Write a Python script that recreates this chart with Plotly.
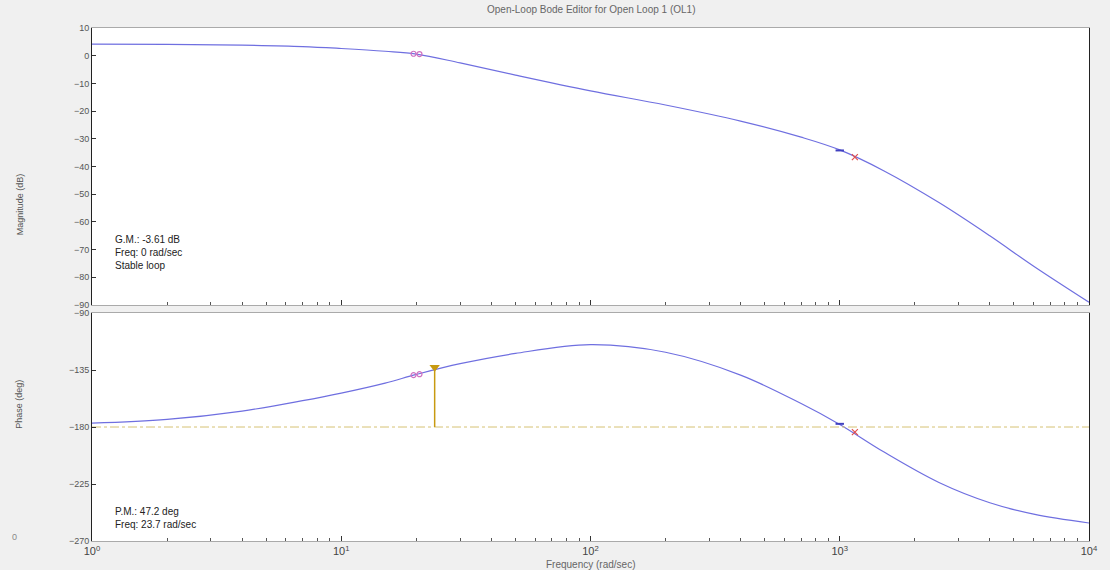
import plotly.graph_objects as go

# ---- data ----
freq = [1, 2, 4, 7, 10, 15, 20, 30, 50, 100, 200, 400, 700, 1000, 1500, 2500, 4000, 6000, 10000]
mag_db = [4.2, 4.1, 3.8, 3.3, 2.6, 1.6, 0.6, -2.6, -7.0, -12.7, -17.8, -23.6, -29.4, -34.0, -41.5, -53.0, -65.0, -76.0, -89.0]
phase_deg = [-177, -174, -167.4, -159.2, -153.2, -145.3, -138.5, -130, -121.9, -115, -121, -139, -161.5, -178, -199.6, -223.8, -239.8, -248.8, -255.8]

comp_freq = [19.5, 20.6]          # pink compensator markers
comp_mag = [0.7, 0.6]
comp_phase = [-139, -138.3]
cl_blue_freq = [1000]
cl_blue_mag = [-34.2]
cl_blue_phase = [-177.5]
cl_red_freq = [1150]
cl_red_mag = [-36.6]
cl_red_phase = [-184]

pm_freq = 23.7
pm_phase = -132.8
crit_phase = -180

mag_ticks = [10, 0, -10, -20, -30, -40, -50, -60, -70, -80, -90]
phase_ticks = [-90, -135, -180, -225, -270]
x_tickvals = [1, 10, 100, 1000, 10000]
x_ticktext = ["10<sup>0</sup>", "10<sup>1</sup>", "10<sup>2</sup>", "10<sup>3</sup>", "10<sup>4</sup>"]

title_text = "Open-Loop Bode Editor for Open Loop 1 (OL1)"
gm_text = "G.M.: -3.61 dB<br>Freq: 0 rad/sec<br>Stable loop"
pm_text = "P.M.: 47.2 deg<br>Freq: 23.7 rad/sec"

line_col = "#6f6fe0"
font = dict(family="Liberation Sans, Arial, sans-serif", size=10, color="#444")

fig = go.Figure()

# magnitude
fig.add_trace(go.Scatter(x=freq, y=mag_db, mode="lines", line=dict(color=line_col, width=1.2, shape="spline", smoothing=1),
                         xaxis="x2", yaxis="y2", hoverinfo="skip"))
# phase
fig.add_trace(go.Scatter(x=freq, y=phase_deg, mode="lines", line=dict(color=line_col, width=1.2, shape="spline", smoothing=1),
                         xaxis="x", yaxis="y", hoverinfo="skip"))
# -180 line
fig.add_trace(go.Scatter(x=[freq[0], freq[-1]], y=[crit_phase, crit_phase], mode="lines",
                         line=dict(color="#d6c274", width=1, dash="dashdot"), xaxis="x", yaxis="y", hoverinfo="skip"))
# PM line
fig.add_trace(go.Scatter(x=[pm_freq, pm_freq], y=[crit_phase, pm_phase], mode="lines",
                         line=dict(color="#c89a10", width=1.5), xaxis="x", yaxis="y", hoverinfo="skip"))
fig.add_trace(go.Scatter(x=[pm_freq], y=[pm_phase], mode="markers",
                         marker=dict(symbol="triangle-down", size=9, color="#c89a10"),
                         xaxis="x", yaxis="y", hoverinfo="skip"))
# compensator markers
for xa, ya, ys in [("x2", "y2", comp_mag), ("x", "y", comp_phase)]:
    fig.add_trace(go.Scatter(x=comp_freq, y=ys, mode="markers",
                             marker=dict(symbol="circle-open", size=5, color="#d070c0", line=dict(width=1.2)),
                             xaxis=xa, yaxis=ya, hoverinfo="skip"))
# closed-loop markers
for xa, ya, yb, yr in [("x2", "y2", cl_blue_mag, cl_red_mag), ("x", "y", cl_blue_phase, cl_red_phase)]:
    fig.add_trace(go.Scatter(x=cl_blue_freq, y=yb, mode="markers",
                             marker=dict(symbol="line-ew", size=6, line=dict(color="#4040c0", width=2)),
                             xaxis=xa, yaxis=ya, hoverinfo="skip"))
    fig.add_trace(go.Scatter(x=cl_red_freq, y=yr, mode="markers",
                             marker=dict(symbol="x-thin", size=6, line=dict(color="#e05050", width=1.2)),
                             xaxis=xa, yaxis=ya, hoverinfo="skip"))

xcommon = dict(type="log", range=[0, 4], tickvals=x_tickvals, ticktext=x_ticktext, showgrid=False, zeroline=False,
               ticks="inside", ticklen=5, tickcolor="#333", showline=True, linecolor="#aaa", mirror=True,
               minor=dict(ticks="inside", ticklen=3, tickcolor="#555", showgrid=False, dtick="D1"),
               tickfont=dict(size=11, color="#444"))
ycommon = dict(showgrid=False, zeroline=False, ticks="inside", ticklen=4, tickcolor="#333",
               showline=True, linecolor="#222", mirror=True, tickfont=dict(size=9, color="#555"))

fig.update_layout(
    width=1110, height=570,
    margin=dict(l=92, r=13, t=28, b=29),
    paper_bgcolor="#f0f0f0", plot_bgcolor="white",
    showlegend=False, font=font,
    xaxis=dict(domain=[0, 1], anchor="y", **xcommon),
    xaxis2=dict(domain=[0, 1], anchor="y2", matches="x", showticklabels=False, **xcommon),
    yaxis=dict(domain=[0, 0.4444], range=[-270, -90], tickvals=phase_ticks, anchor="x", **ycommon),
    yaxis2=dict(domain=[0.460, 1], range=[-90, 10], tickvals=mag_ticks, anchor="x2", **ycommon),
    annotations=[
        dict(text=title_text, xref="paper", yref="paper", x=0.5, y=1.0, yshift=26, showarrow=False,
             font=dict(size=10, color="#666")),
        dict(text="Frequency (rad/sec)", xref="paper", yref="paper", x=0.5, y=-0.045, yanchor="middle",
             showarrow=False, font=dict(size=10, color="#666")),
        dict(text="Magnitude (dB)", xref="paper", yref="paper", x=-0.0796, y=0.72, textangle=-90,
             showarrow=False, font=dict(size=9, color="#555")),
        dict(text="Phase (deg)", xref="paper", yref="paper", x=-0.0796, y=0.215, textangle=-90,
             showarrow=False, font=dict(size=9, color="#555")),
        dict(text=gm_text, xref="paper", yref="paper", x=0.021, y=0.523, xanchor="left", yanchor="bottom",
             align="left", showarrow=False, font=dict(size=10, color="#222")),
        dict(text=pm_text, xref="paper", yref="paper", x=0.021, y=0.018, xanchor="left", yanchor="bottom",
             align="left", showarrow=False, font=dict(size=10, color="#222")),
        dict(text="0", xref="paper", yref="paper", x=-0.082, y=-0.005, showarrow=False,
             font=dict(size=9, color="#888")),
    ],
)

fig.write_html("out.html", config={"displayModeBar": False},
               post_script="document.body.style.margin='0px';document.body.style.background='#f0f0f0';")
